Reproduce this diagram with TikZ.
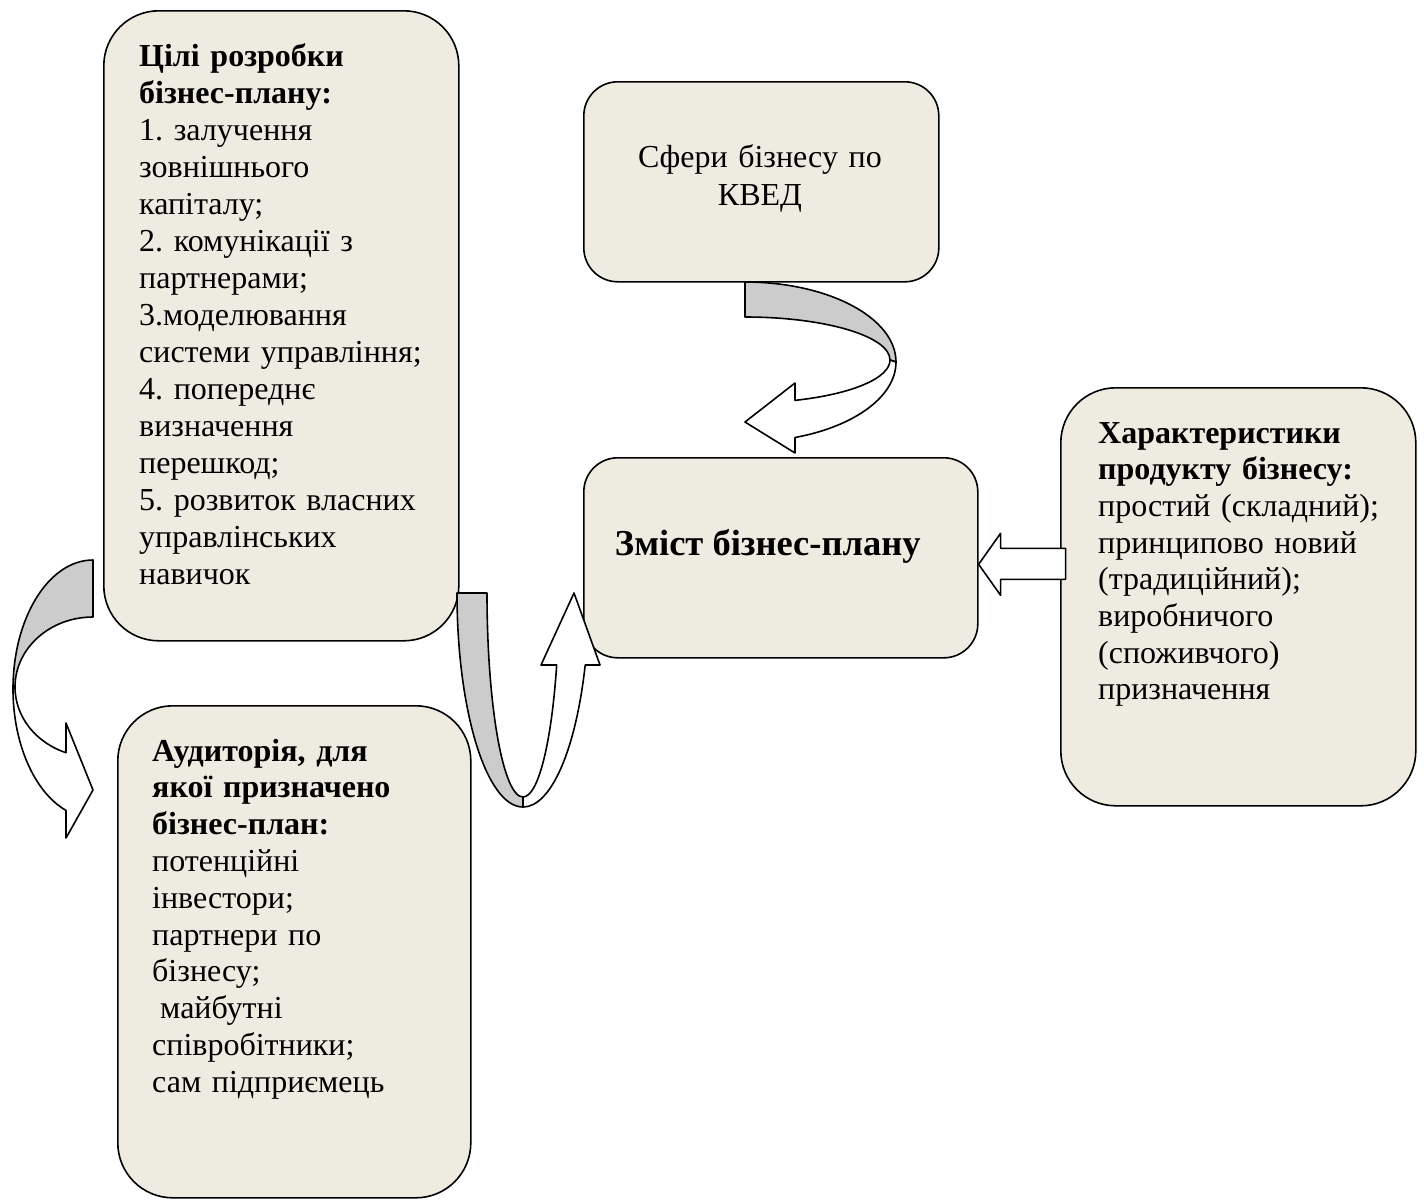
\documentclass[tikz,border=0pt]{standalone}
\usepackage{fontspec}
\setmainfont{Liberation Serif}
\usepackage{tikz}
\usetikzlibrary{positioning}
\definecolor{boxfill}{HTML}{EEECE1}
\definecolor{backband}{HTML}{CCCCCC}
\frenchspacing

\begin{document}
\begin{tikzpicture}[line join=round,x=1pt,y=-1pt,
        box/.style={draw,line width=1.6pt,fill=boxfill,anchor=north west,inner sep=0pt},
        band/.style={draw,line width=1.6pt,fill=backband},
        front/.style={draw,line width=1.6pt,fill=white},
        txt/.style={anchor=base west,inner sep=0pt,align=left,text width=#1,font=\fontsize{32}{37}\selectfont},
        txt/.default=330pt]
        \useasboundingbox (0,0) rectangle (1424,1200);
        \node[box,rounded corners=55pt,minimum width=355pt,minimum height=630pt] (goals) at (103,10) {};
        \node[box,rounded corners=55pt,minimum width=353pt,minimum height=492pt] (aud) at (117,705) {};
        \node[box,rounded corners=34pt,minimum width=355pt,minimum height=200pt] (kved) at (583,81) {};
        \node[box,rounded corners=34pt,minimum width=394pt,minimum height=200pt] (content) at (583,457) {};
        \node[box,rounded corners=55pt,minimum width=355pt,minimum height=418pt] (chars) at (1060,387) {};
        \draw[band] (93,560) arc[start angle=-90,end angle=-180,x radius=80,y radius=129] -- (15,687) arc[start angle=180,end angle=270,x radius=78,y radius=70] -- cycle;
        \draw[front] (15,687) arc[start angle=180,end angle=110.25,x radius=78,y radius=70] -- (66,723) -- (93,790) -- (66,838) -- (66,810.4) arc[start angle=109.72,end angle=180,x radius=80,y radius=129] -- cycle;
        \draw[band] (457,593) arc[start angle=180,end angle=90,x radius=66,y radius=214] -- (523,797) arc[start angle=90,end angle=180,x radius=36,y radius=204] -- cycle;
        \draw[front] (523,797) arc[start angle=90,end angle=20.67,x radius=36,y radius=204] -- (541,665) -- (574,593) -- (600,665) -- (585.2,665) arc[start angle=19.66,end angle=90,x radius=66,y radius=214] -- cycle;
        \draw[band] (745,282) arc[start angle=-90,end angle=0,x radius=151,y radius=80] -- (890,360) arc[start angle=0,end angle=-90,x radius=145,y radius=43] -- cycle;
        \draw[front] (890,360) arc[start angle=0,end angle=69.83,x radius=145,y radius=43] -- (795,383) -- (745,422) -- (795,453) -- (795,437.5) arc[start angle=70.66,end angle=0,x radius=151,y radius=80] -- cycle;
        \coordinate (dtip) at ([yshift=-6.5pt]content.east);
        \draw[front] (dtip) -- ++(22,-31) -- ++(0,15) -- ++(65,0) -- ++(0,31) -- ++(-65,0) -- ++(0,16) -- cycle;
        \node[txt] (goalstxt) at (139,66) {\textbf{Цілі розробки}\\ \textbf{бізнес-плану:}\\ 1. залучення\\ зовнішнього\\ капіталу;\\ 2. комунікації з\\ партнерами;\\ 3.моделювання\\ системи управління;\\ 4. попереднє\\ визначення\\ перешкод;\\ 5. розвиток власних\\ управлінських\\ навичок};
        \node[txt,font=\fontsize{32}{36.8}\selectfont] (audtxt) at (152,761) {\textbf{Аудиторія, для}\\ \textbf{якої призначено}\\ \textbf{бізнес-план:}\\ потенційні\\ інвестори;\\ партнери по\\ бізнесу;\\ \hspace*{0.25em}майбутні\\ співробітники;\\ сам підприємець};
        \node[txt,font=\fontsize{32}{36.7}\selectfont] (charstxt) at (1098,443) {\textbf{Характеристики}\\ \textbf{продукту бізнесу:}\\ простий (складний);\\ принципово новий\\ (традиційний);\\ виробничого\\ (споживчого)\\ призначення};
        \node[txt=320pt,anchor=base,align=center,font=\fontsize{32}{38.5}\selectfont] (kvedtxt) at (760,167) {Сфери бізнесу по\\ КВЕД};
        \node[anchor=base,inner sep=0pt,font=\fontsize{36.5}{42}\selectfont\bfseries] (contenttxt) at ([shift={(-13,-2)}]content.center) {Зміст бізнес-плану};
\end{tikzpicture}
\end{document}
